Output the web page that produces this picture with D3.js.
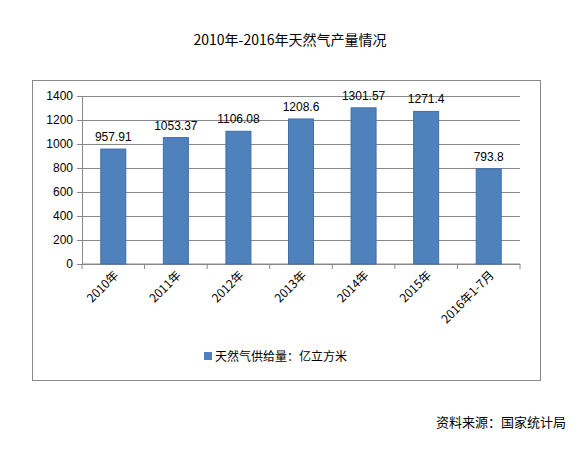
<!DOCTYPE html>
<html><head><meta charset="utf-8">
<script src="https://cdn.jsdelivr.net/npm/d3@7"></script>
<style>body{margin:0;background:#fff;font-family:"Noto Sans CJK SC","DejaVu Sans",sans-serif;}</style>
</head><body>
<svg id="c" width="586" height="449"></svg>
<script>
var categories = ["2010年", "2011年", "2012年", "2013年", "2014年", "2015年", "2016年1-7月"];
var values = [957.91, 1053.37, 1106.08, 1208.6, 1301.57, 1271.4, 793.8];
var labels = ["957.91", "1053.37", "1106.08", "1208.6", "1301.57", "1271.4", "793.8"];
var yTicks = [0, 200, 400, 600, 800, 1000, 1200, 1400];

var svg = d3.select("#c");
var plotLeft = 82, plotRight = 520, plotTop = 96, plotBottom = 264;

svg.append("text").attr("x", 290).attr("y", 45).attr("text-anchor", "middle")
    .style("font-size", "14px").style("font-family", "Noto Sans CJK SC")
    .text("2010年-2016年天然气产量情况");

svg.append("rect").attr("x", 32.5).attr("y", 80.5).attr("width", 508).attr("height", 300)
    .attr("fill", "none").attr("stroke", "#888");

var y = d3.scaleLinear().domain([0, 1400]).range([plotBottom, plotTop]);

svg.append("g").selectAll("line").data(yTicks).enter().append("line")
    .attr("x1", plotLeft - 5).attr("x2", plotRight).attr("y1", d => y(d) + 0.5).attr("y2", d => y(d) + 0.5)
    .attr("stroke", "#888");

var ya = svg.append("g").attr("transform", "translate(" + plotLeft + ",0)")
    .call(d3.axisLeft(y).tickValues(yTicks).tickFormat(d3.format("d")).tickSize(5).tickPadding(4));
ya.select(".domain").attr("stroke", "#888");
ya.selectAll("text").style("font-size", "12px").style("font-family", "Liberation Sans").attr("fill", "#000");
ya.selectAll("line").attr("stroke", "#888");

var step = (plotRight - plotLeft) / categories.length, bw = 25;
var x = d3.scaleBand().domain(categories).range([plotLeft, plotRight]);

var xa = svg.append("g").attr("transform", "translate(0," + plotBottom + ")");
xa.append("line").attr("x1", plotLeft).attr("x2", plotRight).attr("stroke", "#888");
xa.selectAll("line.t").data(d3.range(categories.length + 1)).enter().append("line")
    .attr("x1", i => plotLeft + i * step).attr("x2", i => plotLeft + i * step)
    .attr("y2", 5).attr("stroke", "#888");

svg.selectAll("rect.bar").data(values).enter().append("rect")
    .attr("x", (d, i) => x(categories[i]) + step / 2 - bw / 2)
    .attr("y", d => y(d)).attr("width", bw).attr("height", d => plotBottom - y(d))
    .attr("fill", "#4f81bd").attr("stroke", "#3f6ea8");

svg.selectAll("text.val").data(values).enter().append("text")
    .attr("x", (d, i) => x(categories[i]) + step / 2).attr("y", d => y(d) - 8)
    .attr("text-anchor", "middle").style("font-size", "12px").style("font-family", "Liberation Sans")
    .text((d, i) => labels[i]);

svg.selectAll("text.cat").data(categories).enter().append("text")
    .attr("transform", d => "translate(" + (x(d) + step / 2 + 6) + "," + (plotBottom + 12) + ") rotate(-45)")
    .attr("text-anchor", "end").style("font-size", "12px")
    .text(d => d);

svg.append("rect").attr("x", 204).attr("y", 352).attr("width", 8).attr("height", 8).attr("fill", "#4f81bd");
svg.append("text").attr("x", 215).attr("y", 361).style("font-size", "12px").text("天然气供给量：亿立方米");

svg.append("text").attr("x", 566).attr("y", 427).attr("text-anchor", "end")
    .style("font-size", "13px").text("资料来源：国家统计局");
</script>
</body></html>
